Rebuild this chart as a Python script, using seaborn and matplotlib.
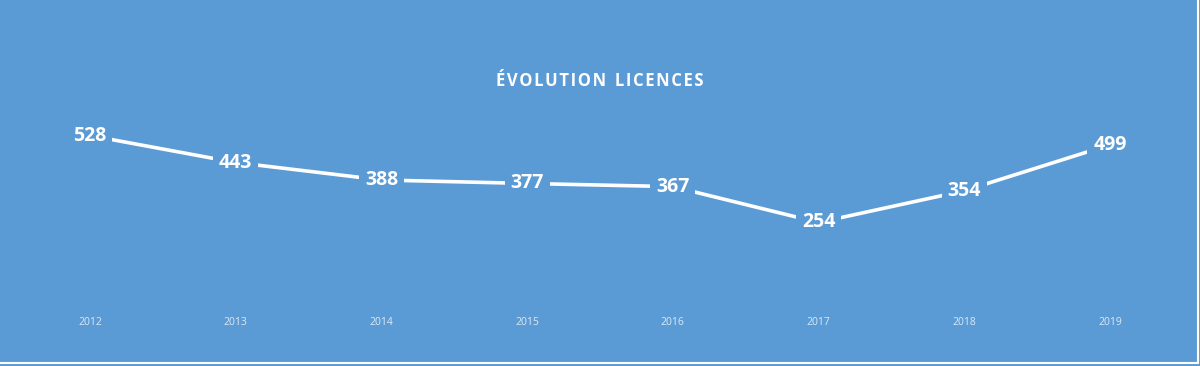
import matplotlib
import seaborn as sns
import pandas as pd

matplotlib.use("Agg")
import matplotlib.pyplot as plt
from matplotlib.lines import Line2D

# data
years = [2012, 2013, 2014, 2015, 2016, 2017, 2018, 2019]
licences = [528, 443, 388, 377, 367, 254, 354, 499]

bg = "#5B9BD5"
df = pd.DataFrame({"annee": years, "licences": licences})

sns.set_style("white")
plt.rcParams["font.family"] = ["Open Sans", "DejaVu Sans"]

fig = plt.figure(figsize=(12, 3.66), dpi=100)
fig.patch.set_facecolor(bg)
ax = fig.add_axes([0.075, 0.172, 0.85, 0.52])
ax.set_facecolor(bg)

sns.lineplot(data=df, x="annee", y="licences", color="white", linewidth=2.6, ax=ax)

for x, y in zip(years, licences):
    ax.text(x, y, str(y), ha="center", va="center", color="white",
            fontsize=14, fontweight="bold",
            bbox=dict(boxstyle="square,pad=0.3", fc=bg, ec="none"))

ax.set_xlim(2012, 2019)
ax.set_ylim(0, 600)
ax.set_xticks(years)
ax.set_xticklabels([str(y) for y in years], color="#DCE8F5", fontsize=7.5)
ax.tick_params(axis="x", length=0, pad=10)
ax.set_yticks([])
ax.set_xlabel("")
ax.set_ylabel("")
sns.despine(ax=ax, left=True, bottom=True)

title = "\u200a".join("ÉVOLUTION") + "  " + "\u200a".join("LICENCES")
fig.text(0.5, 0.78, title, ha="center", va="center", color="white",
         fontsize=12, fontweight="bold")

# thin white frame on the right and bottom edges
fig.add_artist(Line2D([0.998, 0.998], [0.008, 1], transform=fig.transFigure, color="white", lw=1.5))
fig.add_artist(Line2D([0, 0.998], [0.008, 0.008], transform=fig.transFigure, color="white", lw=1.5))

plt.savefig("out.png", dpi=100, facecolor=bg)
